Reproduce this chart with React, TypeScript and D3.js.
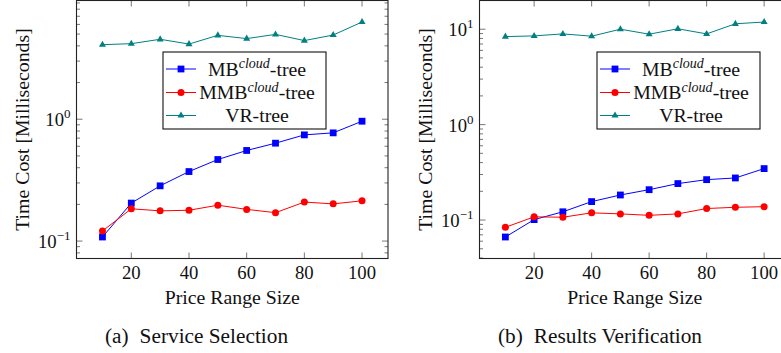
import React, { useEffect, useRef } from "react";
import * as d3 from "d3";

// data (milliseconds)
const priceRange = [10, 20, 30, 40, 50, 60, 70, 80, 90, 100];
const xTicks = [20, 40, 60, 80, 100];
const mbSelection = [0.108, 0.205, 0.284, 0.372, 0.467, 0.554, 0.636, 0.744, 0.773, 0.963];
const mmbSelection = [0.121, 0.184, 0.177, 0.179, 0.197, 0.182, 0.171, 0.209, 0.202, 0.214];
const vrSelection = [4.09, 4.17, 4.53, 4.14, 4.88, 4.59, 4.97, 4.42, 4.91, 6.28];
const mbVerification = [0.0664, 0.101, 0.122, 0.156, 0.183, 0.208, 0.241, 0.265, 0.276, 0.346];
const mmbVerification = [0.0839, 0.108, 0.107, 0.119, 0.116, 0.112, 0.116, 0.132, 0.136, 0.138];
const vrVerification = [8.37, 8.51, 8.93, 8.45, 10.0, 8.87, 10.1, 8.93, 11.4, 11.9];
const seriesNames = ["MB", "MMB", "VR-tree"];
const seriesColors = ["#0000ff", "#ff0000", "#008080"];
const xLabel = "Price Range Size";
const yLabel = "Time Cost [Milliseconds]";

const FONT = "'Liberation Serif', 'Times New Roman', serif";
const W = 781;
const H = 353;
const TOP = 0.5;
const BOTTOM = 258.5;

const panels = [
  { left: 76.5, right: 388, legendX: 163, tag: "(a)", caption: "Service Selection", captionX: 196.5, series: [mbSelection, mmbSelection, vrSelection] },
  { left: 479.5, right: 790, legendX: 597, tag: "(b)", caption: "Results Verification", captionX: 600, series: [mbVerification, mmbVerification, vrVerification] },
];

function drawMarker(g: any, kind: number, cx: number, cy: number) {
  const c = seriesColors[kind];
  if (kind === 0) {
    g.append("rect").attr("x", cx - 3.4).attr("y", cy - 3.4).attr("width", 6.8).attr("height", 6.8).attr("fill", c);
  } else if (kind === 1) {
    g.append("circle").attr("cx", cx).attr("cy", cy).attr("r", 3.5).attr("fill", c);
  } else {
    g.append("path")
      .attr("d", `M${cx},${cy - 4}L${cx + 3.5},${cy + 2.1}L${cx - 3.5},${cy + 2.1}Z`)
      .attr("fill", c);
  }
}

const App = () => {
  const svgRef = useRef<SVGSVGElement>(null);

  useEffect(() => {
    const svg = d3.select(svgRef.current);
    svg.selectAll("*").remove();

    panels.forEach((p, pi) => {
      const g = svg.append("g");

      // pgfplots-style 10% enlargement
      const [xmin, xmax] = d3.extent(priceRange) as [number, number];
      const xpad = (xmax - xmin) * 0.1;
      const x = d3.scaleLinear().domain([xmin - xpad, xmax + xpad]).range([p.left, p.right]);

      const all = p.series.flat();
      const lo = Math.log10(d3.min(all) as number);
      const hi = Math.log10(d3.max(all) as number);
      const ypad = (hi - lo) * 0.1;
      const y = d3.scaleLog().domain([10 ** (lo - ypad), 10 ** (hi + ypad)]).range([BOTTOM, TOP]);

      const clipId = `clip${pi}`;
      svg.append("clipPath").attr("id", clipId)
        .append("rect").attr("x", p.left).attr("y", TOP).attr("width", p.right - p.left).attr("height", BOTTOM - TOP);

      // ticks
      const ticks = g.append("g").attr("stroke", "#555").attr("stroke-width", 0.8);
      xTicks.forEach((t) => {
        ticks.append("line").attr("x1", x(t)).attr("x2", x(t)).attr("y1", BOTTOM).attr("y2", BOTTOM - 6);
        ticks.append("line").attr("x1", x(t)).attr("x2", x(t)).attr("y1", TOP).attr("y2", TOP + 6);
      });
      const [d0, d1] = y.domain();
      const majors: number[] = [];
      for (let e = Math.floor(Math.log10(d0)); e <= Math.ceil(Math.log10(d1)); e++) {
        for (let k = 1; k <= 9; k++) {
          const v = k * 10 ** e;
          if (v < d0 || v > d1) continue;
          const len = k === 1 ? 6 : 3.5;
          if (k === 1) majors.push(e);
          ticks.append("line").attr("x1", p.left).attr("x2", p.left + len).attr("y1", y(v)).attr("y2", y(v));
          ticks.append("line").attr("x1", p.right).attr("x2", p.right - len).attr("y1", y(v)).attr("y2", y(v));
        }
      }

      // series
      const plot = g.append("g").attr("clip-path", `url(#${clipId})`);
      p.series.forEach((vals, si) => {
        const pts = priceRange.map((d, i) => [d, vals[i]] as [number, number]);
        const line = d3.line<[number, number]>().x((d) => x(d[0])).y((d) => y(d[1]));
        plot.append("path").attr("d", line(pts)).attr("fill", "none")
          .attr("stroke", seriesColors[si]).attr("stroke-width", 1);
        pts.forEach((d) => drawMarker(plot, si, x(d[0]), y(d[1])));
      });

      // frame
      g.append("rect").attr("x", p.left).attr("y", TOP).attr("width", p.right - p.left).attr("height", BOTTOM - TOP)
        .attr("fill", "none").attr("stroke", "#222").attr("stroke-width", 1.1);

      // tick labels
      const labels = g.append("g").attr("font-family", FONT).attr("fill", "#111");
      xTicks.forEach((t) => {
        labels.append("text").attr("x", x(t)).attr("y", 278.5).attr("text-anchor", "middle")
          .attr("font-size", 18.7).text(t);
      });
      majors.forEach((e) => {
        const tx = labels.append("text").attr("x", p.left - 6).attr("y", y(10 ** e) + 7)
          .attr("text-anchor", "end").attr("font-size", 18.7);
        tx.append("tspan").text("10");
        tx.append("tspan").attr("dy", -8).attr("font-size", 13).text(e < 0 ? `\u2212${-e}` : `${e}`);
      });

      // axis labels
      labels.append("text").attr("x", (p.left + p.right) / 2).attr("y", 303.5).attr("text-anchor", "middle")
        .attr("font-size", 19.8).text(xLabel);
      labels.append("text")
        .attr("transform", `translate(${p.left - 48},${(TOP + BOTTOM) / 2}) rotate(-90)`)
        .attr("text-anchor", "middle").attr("font-size", 19.8).text(yLabel);

      // caption
      const cap = labels.append("text").attr("x", p.captionX).attr("y", 342.5).attr("text-anchor", "middle")
        .attr("font-size", 21.3);
      cap.append("tspan").text(p.tag);
      cap.append("tspan").attr("dx", 11).text(p.caption);

      // legend
      const lg = g.append("g").attr("transform", `translate(${p.legendX},52)`);
      lg.append("rect").attr("width", 163).attr("height", 77).attr("fill", "white")
        .attr("stroke", "#111").attr("stroke-width", 1.1);
      const rows = [17, 40.5, 63.5];
      seriesNames.forEach((name, si) => {
        const ry = rows[si];
        lg.append("line").attr("x1", 3).attr("x2", 33).attr("y1", ry).attr("y2", ry)
          .attr("stroke", seriesColors[si]).attr("stroke-width", 1);
        drawMarker(lg, si, 18, ry);
        const t = lg.append("text").attr("x", 94).attr("y", ry + 6.7).attr("text-anchor", "middle")
          .attr("font-family", FONT).attr("font-size", 19.8).attr("fill", "#111");
        if (si < 2) {
          t.append("tspan").text(name);
          t.append("tspan").attr("dy", -7.5).attr("font-size", 14).attr("font-style", "italic").text("cloud");
          t.append("tspan").attr("dy", 7.5).text("-tree");
        } else {
          t.text(name);
        }
      });
    });
  }, []);

  return (
    <svg
      ref={svgRef}
      width={W}
      height={H}
      style={{ position: "absolute", left: 0, top: 0, background: "white" }}
    />
  );
};

export default App;
